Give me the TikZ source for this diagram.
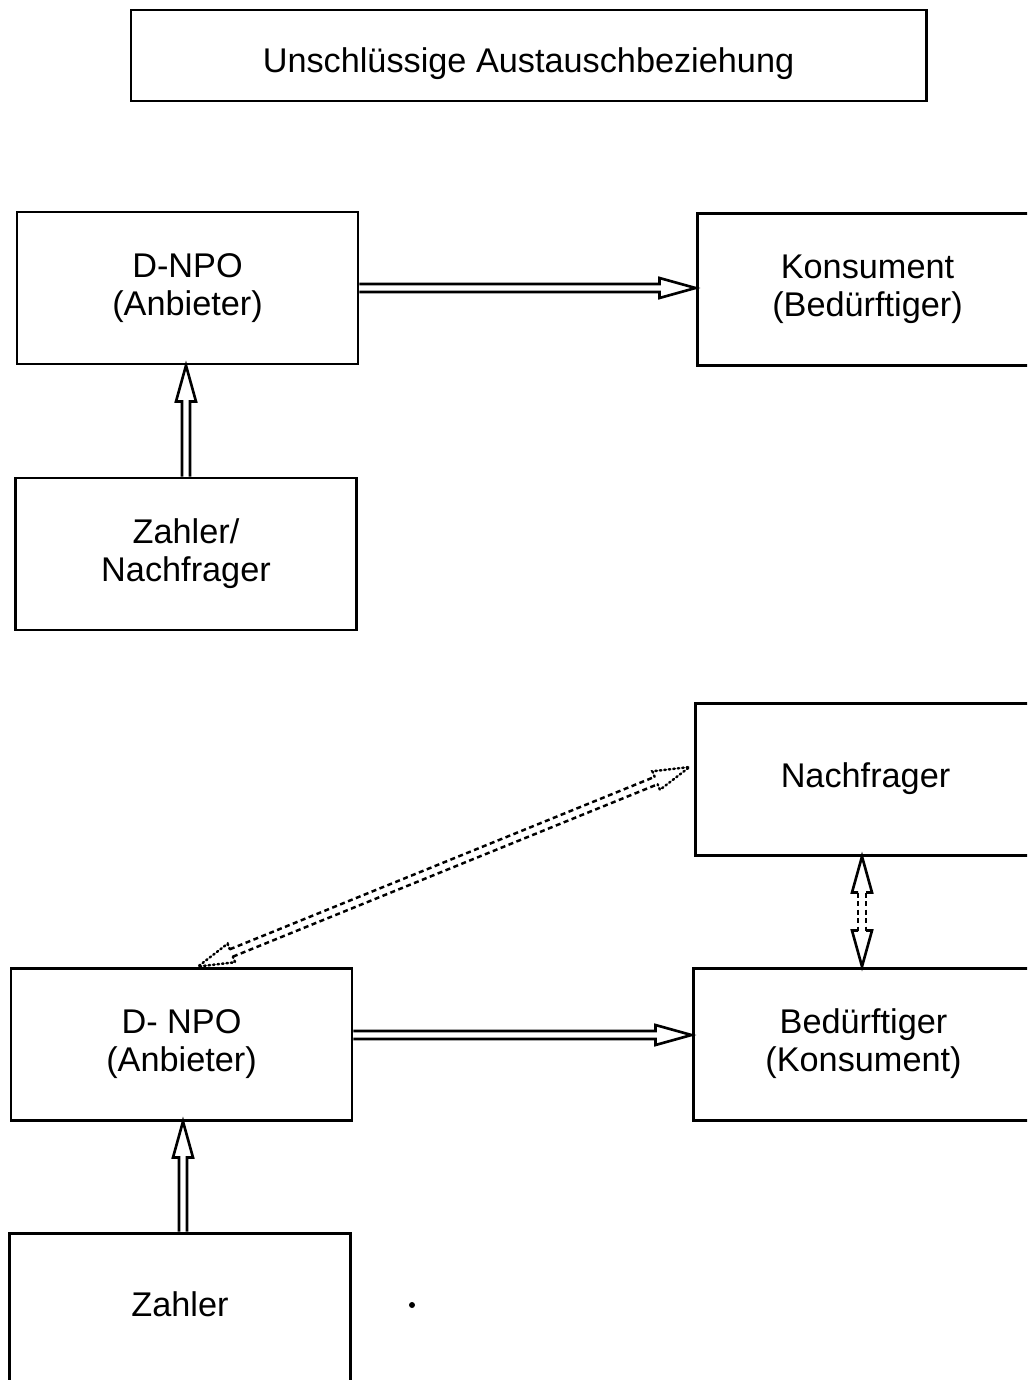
\documentclass[tikz,border=0pt]{standalone}
\usepackage{fontspec}
\setmainfont{Liberation Sans}
\usetikzlibrary{calc}

% sizes of the hollow arrows
\def\shaftw{0.08cm}
\def\headw{0.2cm}
\def\headlen{0.72cm}

% hollow arrow: style, from, to
\newcommand{\openarrow}[3]{%
  \coordinate (oa-h) at ($(#3)!\headlen!(#2)$);
  \draw[#1] ($(#2)!\shaftw!90:(#3)$) -- ($(oa-h)!\shaftw!90:(#3)$) -- ($(oa-h)!\headw!90:(#3)$) -- (#3)
    -- ($(oa-h)!\headw!-90:(#3)$) -- ($(oa-h)!\shaftw!-90:(#3)$) -- ($(#2)!\shaftw!-90:(#3)$);
}
% hollow arrow with two heads: head style, shaft style, from, to
\newcommand{\twoheadarrow}[4]{%
  \coordinate (ta-a) at ($(#3)!\headlen!(#4)$);
  \coordinate (ta-b) at ($(#4)!\headlen!(#3)$);
  \draw[#1] ($(ta-a)!\shaftw!90:(#4)$) -- ($(ta-a)!\headw!90:(#4)$) -- (#3)
    -- ($(ta-a)!\headw!-90:(#4)$) -- ($(ta-a)!\shaftw!-90:(#4)$);
  \draw[#1] ($(ta-b)!\shaftw!90:(#4)$) -- ($(ta-b)!\headw!90:(#4)$) -- (#4)
    -- ($(ta-b)!\headw!-90:(#4)$) -- ($(ta-b)!\shaftw!-90:(#4)$);
  \draw[#2] ($(ta-a)!\shaftw!90:(#4)$) -- ($(ta-b)!\shaftw!90:(#4)$);
  \draw[#2] ($(ta-a)!\shaftw!-90:(#4)$) -- ($(ta-b)!\shaftw!-90:(#4)$);
}

\begin{document}
\begin{tikzpicture}[
    box/.style={rectangle, draw, line width=1.7pt, minimum width=6.82cm, minimum height=3.04cm, align=center, font=\fontsize{19.5}{21.5}\selectfont},
    titlebox/.style={box, minimum width=15.9cm, minimum height=1.82cm},
    hollow/.style={line width=1.5pt, line join=miter},
    dashshaft/.style={line width=1.4pt, dash pattern=on 0.1cm off 0.07cm},
    dothead/.style={line width=1.4pt, dash pattern=on 0.03cm off 0.06cm, line cap=round}
]
\clip (0,0) rectangle (20.54,-27.6);

% Title
\node[titlebox] (title) at (10.57,-1.11) {\raisebox{-0.16cm}[\height][\depth]{Unschlüssige Austauschbeziehung}};

% Upper part
\node[box] (anbieter1) at (3.75,-5.76) {D-NPO\\(Anbieter)};
\node[box] (konsument1) at (17.35,-5.79) {Konsument\\(Bedürftiger)};
\node[box] (zahler1) at (3.72,-11.08) {Zahler/\\Nachfrager};

% Lower part
\node[box] (nachfrager) at (17.31,-15.58) {Nachfrager};
\node[box] (anbieter2) at (3.63,-20.88) {D- NPO\\(Anbieter)};
\node[box] (beduerftiger) at (17.27,-20.88) {Bedürftiger\\(Konsument)};
\node[box] (zahler2) at (3.6,-26.18) {\raisebox{0.1cm}[\height][\depth]{Zahler}};

% Arrows upper part
\coordinate (k1in) at (konsument1.west |- anbieter1.east);
\openarrow{hollow}{anbieter1.east}{k1in}
\coordinate (a1in) at (zahler1.north |- anbieter1.south);
\openarrow{hollow}{zahler1.north}{a1in}

% Arrows lower part
\coordinate (a2out) at ($(anbieter2.east)+(0,0.18)$);
\coordinate (b2in) at (beduerftiger.west |- a2out);
\openarrow{hollow}{a2out}{b2in}
\coordinate (z2out) at ($(zahler2.north)+(0.06,0)$);
\coordinate (a2in) at (z2out |- anbieter2.south);
\openarrow{hollow}{z2out}{a2in}
\coordinate (n2out) at ($(nachfrager.south)+(-0.07,0)$);
\coordinate (b2top) at (n2out |- beduerftiger.north);
\twoheadarrow{hollow}{dashshaft}{n2out}{b2top}
\coordinate (a2top) at ($(anbieter2.north)+(0.33,0)$);
\coordinate (n2left) at ($(nachfrager.west)+(-0.08,0.24)$);
\twoheadarrow{dothead}{dashshaft}{a2top}{n2left}

% stray dot
\fill (8.24,-26.1) circle (0.06);

\end{tikzpicture}
\end{document}
